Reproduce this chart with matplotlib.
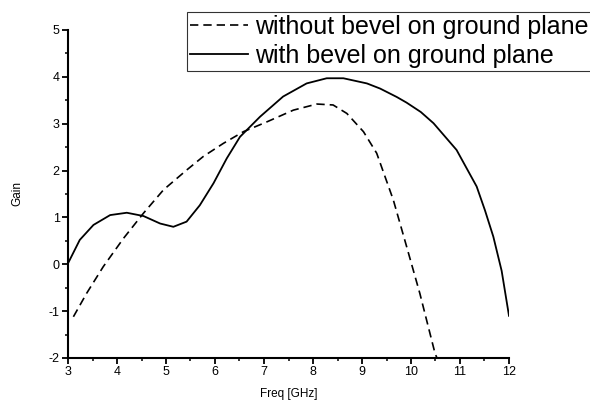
import numpy as np
import matplotlib.pyplot as plt
from matplotlib.ticker import MultipleLocator

plt.rcParams['font.family'] = ['Liberation Sans', 'DejaVu Sans']
plt.rcParams['axes.unicode_minus'] = False

freq_bevel = [3.0, 3.24, 3.52, 3.86, 4.2, 4.54, 4.88, 5.15, 5.42, 5.69, 5.97, 6.24,
              6.51, 6.92, 7.39, 7.87, 8.28, 8.62, 9.1, 9.37, 9.71, 9.91, 10.2,
              10.46, 10.93, 11.34, 11.51, 11.68, 11.85, 12.0]
gain_bevel = [0.02, 0.52, 0.84, 1.05, 1.10, 1.03, 0.87, 0.80, 0.91, 1.26, 1.73, 2.26,
              2.72, 3.15, 3.58, 3.86, 3.97, 3.97, 3.86, 3.75, 3.57, 3.45, 3.25,
              3.01, 2.44, 1.66, 1.15, 0.59, -0.14, -1.1]

freq_nobevel = [3.11, 3.38, 3.72, 4.13, 4.54, 4.95, 5.42, 5.76, 6.17, 6.58, 7.06, 7.6,
                8.08, 8.41, 8.69, 9.03, 9.30, 9.64, 9.91, 10.18, 10.49, 10.53]
gain_nobevel = [-1.12, -0.62, -0.05, 0.55, 1.09, 1.59, 2.01, 2.30, 2.58, 2.83, 3.04, 3.29,
                3.42, 3.40, 3.22, 2.83, 2.37, 1.37, 0.38, -0.62, -1.90, -2.0]

fig = plt.figure(figsize=(5.9, 4.04), dpi=100)
ax = fig.add_axes([68/590, 1-358/404, (509-68)/590, (358-30)/404])

l1, = ax.plot(freq_nobevel, gain_nobevel, color='black', lw=1.2, dashes=(5, 3))
l2, = ax.plot(freq_bevel, gain_bevel, color='black', lw=1.3)

ax.set_xlim(3, 12)
ax.set_ylim(-2, 5)
ax.xaxis.set_major_locator(MultipleLocator(1))
ax.xaxis.set_minor_locator(MultipleLocator(0.5))
ax.yaxis.set_major_locator(MultipleLocator(1))
ax.yaxis.set_minor_locator(MultipleLocator(0.5))
for s in ['top', 'right']:
    ax.spines[s].set_visible(False)
for s in ['left', 'bottom']:
    ax.spines[s].set_linewidth(1.5)
ax.tick_params(which='major', direction='out', length=4, width=1.3, labelsize=9, pad=2)
ax.tick_params(which='minor', direction='out', length=2.5, width=1.1)

ax.set_xlabel('Freq [GHz]', fontsize=8.5, labelpad=7)
ax.set_ylabel('Gain', fontsize=8.5, labelpad=18)

leg = fig.legend([l1, l2], ['without bevel on ground plane', 'with bevel on ground plane'],
                 loc='upper left', bbox_to_anchor=(187/590, 1-12/404), fontsize=18,
                 frameon=True, fancybox=False, borderaxespad=0, borderpad=0.12,
                 labelspacing=0.2, handlelength=2.3, handletextpad=0.3)
leg.get_frame().set_edgecolor('black')
leg.get_frame().set_linewidth(0.8)

fig.savefig('out.png', dpi=100)
